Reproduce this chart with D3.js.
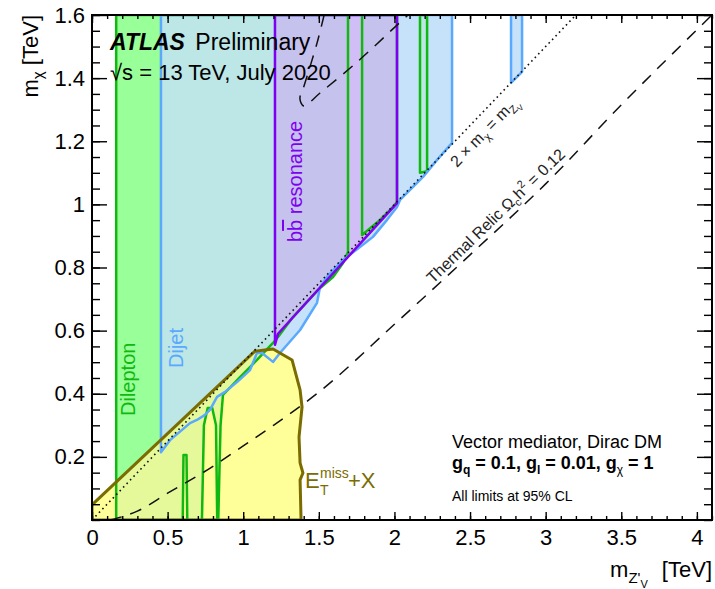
<!DOCTYPE html>
<html><head><meta charset="utf-8">
<script src="https://cdn.jsdelivr.net/npm/d3@7"></script>
<style>
body{margin:0;background:#fff}
text{font-family:"Liberation Sans",Arial,Helvetica,sans-serif}
</style>
</head><body>
<svg id="c" width="715" height="589"></svg>
<script>
// ---- limit contours, [m_Z' (TeV), m_chi (TeV)] ----
const dileptonMain = [[0.16,0],[0.16,1.6],[1.693,1.6],[1.693,0.849],[1.66,0.814],[1.594,0.770],[1.495,0.729],[1.329,0.643],[1.23,0.58],[1.197,0.561],[1.091,0.507],[0.979,0.453],[0.866,0.396],[0.85,0.3],[0.84,0.1],[0.835,0]];
const dileptonHole1 = [[0.60,0],[0.605,0.206],[0.625,0.206],[0.63,0]];
const dileptonHole2 = [[0.727,0],[0.74,0.3],[0.765,0.355],[0.795,0.355],[0.82,0.3],[0.828,0]];
const dileptonMid = [[1.786,1.6],[2.017,1.6],[2.017,1.008],[1.991,0.992],[1.905,0.951],[1.786,0.903]];
const dileptonStrip = [[2.169,1.6],[2.216,1.6],[2.216,1.105],[2.169,1.10]];
const dijetMain = [[0.456,1.6],[2.381,1.6],[2.381,1.195],[2.282,1.141],[2.189,1.087],[2.037,1.014],[2.017,0.992],[1.951,0.951],[1.858,0.897],[1.772,0.865],[1.66,0.824],[1.554,0.770],[1.508,0.738],[1.488,0.688],[1.376,0.602],[1.243,0.529],[1.197,0.501],[1.124,0.529],[1.091,0.529],[1.045,0.475],[0.959,0.437],[0.880,0.406],[0.827,0.390],[0.780,0.349],[0.747,0.333],[0.694,0.317],[0.648,0.307],[0.516,0.253],[0.456,0.215]];
const dijetStrip = [[2.771,1.6],[2.844,1.6],[2.844,1.42],[2.771,1.385]];
const bbResonance = [[1.21,1.6],[2.017,1.6],[2.017,1.004],[1.23,0.59],[1.21,0.555]];
const etmissX = [[0,0],[0,0.048],[1.078,0.535],[1.197,0.542],[1.323,0.507],[1.376,0.412],[1.389,0.358],[1.369,0.263],[1.376,0.181],[1.395,0.149],[1.376,0.127],[1.382,0.01],[1.382,0]];
const relicLower = [[0.12,0],[0.3,0.028],[0.5,0.085],[0.8,0.17],[1.0,0.235],[1.2,0.3],[1.5,0.405],[2.0,0.62],[2.5,0.84],[3.0,1.065],[3.5,1.315],[4.1,1.6]];
const relicUpper = [[1.535,1.6],[1.488,1.511],[1.40,1.372],[1.375,1.335],[1.40,1.312],[1.508,1.353],[1.753,1.451],[2.017,1.568],[2.09,1.6]];
const kinematicLine = [[0,0],[3.2,1.6]];

// ---- axes ----
const xMajor = [0,0.5,1,1.5,2,2.5,3,3.5,4];
const yMajor = [0.2,0.4,0.6,0.8,1,1.2,1.4,1.6];
const xMinor = d3.range(0,4.11,0.1);
const yMinor = d3.range(0,1.601,0.05);

const svg = d3.select("#c");
const L=92,R=712,T=15,B=520;
const x = d3.scaleLinear().domain([0,4.1]).range([L,R]);
const y = d3.scaleLinear().domain([0,1.6]).range([B,T]);
const line = d3.line().x(d=>x(d[0])).y(d=>y(d[1]));
const poly = pts => line(pts)+"Z";

const defs = svg.append("defs");
defs.append("clipPath").attr("id","frame").append("rect").attr("x",L).attr("y",T).attr("width",R-L).attr("height",B-T);
const dilepD = [dileptonMain,dileptonHole1,dileptonHole2,dileptonMid,dileptonStrip].map(poly).join("");
const dijetD = [dijetMain,dijetStrip].map(poly).join("");
const bbD = poly(bbResonance);
const yelD = poly(etmissX);
defs.append("clipPath").attr("id","cDilep").append("path").attr("d",dilepD).attr("clip-rule","evenodd");
defs.append("clipPath").attr("id","cYel").append("path").attr("d",yelD);

const plot = svg.append("g").attr("clip-path","url(#frame)");

// filled regions; overlaps painted with their own blended tints
plot.append("path").attr("d",dilepD).attr("fill-rule","evenodd").attr("fill","#99ff99");
plot.append("path").attr("d",dijetD).attr("fill","#c6e2fa");
plot.append("g").attr("clip-path","url(#cDilep)").append("path").attr("d",dijetD).attr("fill","#bde6e6");
plot.append("path").attr("d",bbD).attr("fill","#d2bef7");
plot.append("g").attr("clip-path","url(#cDilep)").append("path").attr("d",bbD).attr("fill","#c6c2ee");
plot.append("path").attr("d",yelD).attr("fill","#ffff99");
plot.append("g").attr("clip-path","url(#cYel)").append("path").attr("d",dilepD).attr("fill-rule","evenodd").attr("fill","#e6f99a");

// outlines
const outline = (d,c,w)=>plot.append("path").attr("d",d).attr("fill","none").attr("stroke",c).attr("stroke-width",w).attr("stroke-linejoin","round");
outline(dilepD,"#10b810",2.5);
outline(dijetD,"#5aa9ff",2.5);
outline(bbD,"#7f00f0",2.5);
outline(yelD,"#7a6c00",3);

plot.append("path").attr("d",line(kinematicLine)).attr("fill","none").attr("stroke","#111").attr("stroke-width",1.6).attr("stroke-dasharray","1.6,3.4");
const curve = d3.line().x(d=>x(d[0])).y(d=>y(d[1])).curve(d3.curveMonotoneX);
plot.append("path").attr("d",curve(relicLower)).attr("fill","none").attr("stroke","#111").attr("stroke-width",1.5).attr("stroke-dasharray","12,9");
plot.append("path").attr("d",d3.line().x(d=>x(d[0])).y(d=>y(d[1])).curve(d3.curveCatmullRom)(relicUpper)).attr("fill","none").attr("stroke","#111").attr("stroke-width",1.5).attr("stroke-dasharray","12,9");

// axes with inward ticks
const fmt = d=>String(+d.toFixed(2));
function ax(gen,tr,vals,size,labels,pad){
  const g = svg.append("g").attr("transform",tr).call(gen.tickValues(vals).tickSize(size).tickPadding(pad||0).tickFormat(labels?fmt:""));
  g.select(".domain").remove();
  g.selectAll("line").attr("stroke","#000").attr("stroke-width",1.4);
  g.selectAll("text").attr("font-size",22).attr("fill","#000").attr("font-family","'Liberation Sans',Arial,sans-serif");
  return g;
}
ax(d3.axisBottom(x),`translate(0,${B})`,xMinor,-4,false);
ax(d3.axisBottom(x),`translate(0,${B})`,xMajor,-8,true,9);
ax(d3.axisTop(x),`translate(0,${T})`,xMinor,-4,false);
ax(d3.axisTop(x),`translate(0,${T})`,xMajor,-8,false);
ax(d3.axisLeft(y),`translate(${L},0)`,yMinor,-8,false);
ax(d3.axisLeft(y),`translate(${L},0)`,yMajor,-15,true,7);
ax(d3.axisRight(y),`translate(${R},0)`,yMinor,-8,false);
ax(d3.axisRight(y),`translate(${R},0)`,yMajor,-15,false);
svg.append("rect").attr("x",L).attr("y",T).attr("width",R-L).attr("height",B-T).attr("fill","none").attr("stroke","#000").attr("stroke-width",2);

// axis titles
const yt = svg.append("text").attr("transform","translate(38,15) rotate(-90)").attr("text-anchor","end").attr("font-size",22);
yt.append("tspan").text("m");
yt.append("tspan").text("χ").attr("font-size",15).attr("dy",5);
yt.append("tspan").text(" [TeV]").attr("dy",-5);
const xt = svg.append("text").attr("x",712).attr("y",577).attr("text-anchor","end").attr("font-size",22);
xt.append("tspan").text("m");
xt.append("tspan").text("Z'").attr("font-size",15).attr("dy",6);
xt.append("tspan").text("V").attr("font-size",11).attr("dy",5);
xt.append("tspan").text(" [TeV]").attr("dy",-11).attr("dx",8);

// header
const h1 = svg.append("text").attr("x",110).attr("y",50).attr("font-size",23);
h1.append("tspan").text("ATLAS").attr("font-weight","bold").attr("font-style","italic");
h1.append("tspan").text(" Preliminary").attr("dx",4);
svg.append("text").attr("x",110).attr("y",80).attr("font-size",22).text("√s = 13 TeV, July 2020");

// region labels
svg.append("text").attr("transform","translate(135,416) rotate(-90)").attr("font-size",20).attr("fill","#10b810").text("Dilepton");
svg.append("text").attr("transform","translate(183,368) rotate(-90)").attr("font-size",20).attr("fill","#5aa9ff").text("Dijet");
const bbt = svg.append("text").attr("transform","translate(302,242) rotate(-90)").attr("font-size",20).attr("fill","#8000f0");
bbt.append("tspan").text("b");
bbt.append("tspan").text("b").attr("text-decoration","overline");
bbt.append("tspan").text(" resonance");
const em = svg.append("g").attr("fill","#7a6c00").attr("font-size",22);
em.append("text").attr("x",305).attr("y",488).text("E");
em.append("text").attr("x",320).attr("y",478).attr("font-size",14).text("miss");
em.append("text").attr("x",320).attr("y",495).attr("font-size",14).text("T");
em.append("text").attr("x",348).attr("y",488).text("+X");

// line labels
const kl = svg.append("text").attr("transform","translate(457,168) rotate(-46.2)").attr("font-size",16).attr("fill","#222");
kl.append("tspan").text("2 × m");
kl.append("tspan").text("χ").attr("font-size",11).attr("dy",4);
kl.append("tspan").text(" = m").attr("dy",-4);
kl.append("tspan").text("Z").attr("font-size",11).attr("dy",4);
kl.append("tspan").text("V").attr("font-size",8).attr("dy",3);
const rl = svg.append("text").attr("transform","translate(433,284) rotate(-44)").attr("font-size",16).attr("fill","#222");
rl.append("tspan").text("Thermal Relic Ω");
rl.append("tspan").text("c").attr("font-size",11).attr("dy",4);
rl.append("tspan").text("h").attr("dy",-4);
rl.append("tspan").text("2").attr("font-size",11).attr("dy",-7);
rl.append("tspan").text(" = 0.12").attr("dy",7);

// model box
svg.append("text").attr("x",452).attr("y",448).attr("font-size",18).text("Vector mediator, Dirac DM");
const gl = svg.append("text").attr("x",452).attr("y",469).attr("font-size",18).attr("font-weight","bold");
gl.append("tspan").text("g");
gl.append("tspan").text("q").attr("font-size",12).attr("dy",5);
gl.append("tspan").text(" = 0.1, g").attr("dy",-5);
gl.append("tspan").text("l").attr("font-size",12).attr("dy",5);
gl.append("tspan").text(" = 0.01, g").attr("dy",-5);
gl.append("tspan").text("χ").attr("font-size",12).attr("dy",5).attr("font-weight","normal");
gl.append("tspan").text(" = 1").attr("dy",-5);
svg.append("text").attr("x",452).attr("y",501).attr("font-size",14).text("All limits at 95% CL");
</script>
</body></html>
